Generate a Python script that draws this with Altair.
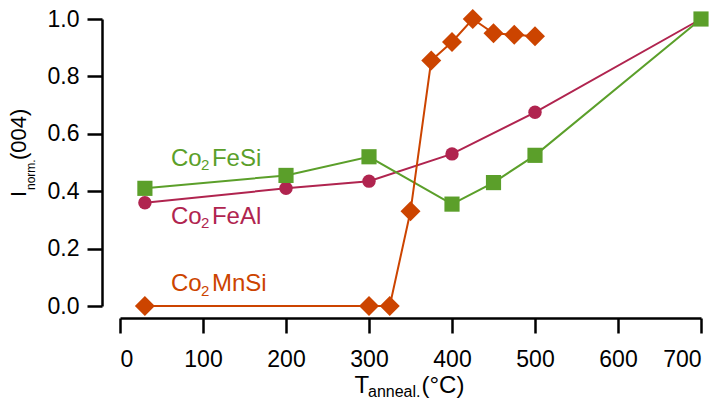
import altair as alt
import pandas as pd

# ---- data ----
fesi_x = [30, 200, 300, 400, 450, 500, 700]
fesi_y = [0.41, 0.455, 0.52, 0.355, 0.43, 0.525, 1.0]

feal_x = [30, 200, 300, 400, 500, 700]
feal_y = [0.36, 0.41, 0.435, 0.53, 0.675, 1.0]

mnsi_x = [30, 300, 325, 350, 375, 400, 425, 450, 475, 500]
mnsi_y = [0.0, 0.0, 0.0, 0.33, 0.855, 0.92, 1.0, 0.95, 0.945, 0.94]

x_ticks = [0, 100, 200, 300, 400, 500, 600, 700]
y_ticks = [0.0, 0.2, 0.4, 0.6, 0.8, 1.0]

FONT = "Liberation Sans"

series = [
    # name, xs, ys, colour, shape, size, label rest, label anchor (x, y)
    ("Co2FeAl", feal_x, feal_y, "#b0244f", "circle", 180, "FeAl", (61.4, 0.286)),
    ("Co2FeSi", fesi_x, fesi_y, "#5b9f2a", "square", 230, "FeSi", (61.4, 0.488)),
    ("Co2MnSi", mnsi_x, mnsi_y, "#cc4400", "diamond", 400, "MnSi", (61.4, 0.052)),
]

xs = alt.Scale(domain=[0, 700], nice=False, zero=False)
ys = alt.Scale(domain=[0, 1], nice=False, zero=False)

x_axis = alt.Axis(values=x_ticks, offset=12, title=None, format="d",
                  labelFontSize=23, labelPadding=15, grid=False)
y_axis = alt.Axis(values=y_ticks, offset=18, title=None, format=".1f",
                  labelFontSize=23, labelPadding=8, grid=False)

X = alt.X("x:Q", scale=xs, axis=x_axis)
Y = alt.Y("y:Q", scale=ys, axis=y_axis)

layers = []
for name, sx, sy, col, shape, size, rest, anchor in series:
    df = pd.DataFrame({"x": sx, "y": sy, "o": list(range(len(sx)))})
    layers.append(
        alt.Chart(df).mark_line(color=col, strokeWidth=2).encode(x=X, y=Y, order="o:Q")
    )
for name, sx, sy, col, shape, size, rest, anchor in series:
    df = pd.DataFrame({"x": sx, "y": sy})
    layers.append(
        alt.Chart(df).mark_point(shape=shape, size=size, filled=True, color=col, opacity=1)
        .encode(x=X, y=Y)
    )

# series labels (Co + subscript 2 + rest)
for name, sx, sy, col, shape, size, rest, anchor in series:
    ldf = pd.DataFrame({"x": [anchor[0]], "y": [anchor[1]]})
    base = alt.Chart(ldf)
    layers.append(base.mark_text(align="left", baseline="alphabetic", font=FONT,
                                 fontSize=24, color=col)
                  .encode(x=X, y=Y, text=alt.value("Co")))
    layers.append(base.mark_text(align="left", baseline="alphabetic", font=FONT,
                                 fontSize=15, color=col, dx=30, dy=4.5)
                  .encode(x=X, y=Y, text=alt.value("2")))
    layers.append(base.mark_text(align="left", baseline="alphabetic", font=FONT,
                                 fontSize=24, color=col, dx=41)
                  .encode(x=X, y=Y, text=alt.value(rest)))

# axis titles built from pieces (pixel positions relative to the plot area)
one = pd.DataFrame({"k": [0]})
def piece(txt, px, py, size, angle=0):
    m = alt.Chart(one).mark_text(align="left", baseline="alphabetic", font=FONT,
                                 fontSize=size, color="black", angle=angle)
    return m.encode(x=alt.value(px), y=alt.value(py), text=alt.value(txt))

# x title: T_anneal.(°C)
layers.append(piece("T", 234.5, 374, 24))
layers.append(piece("anneal.", 248, 378, 16))
layers.append(piece("(°C)", 301.5, 374, 24))
# y title: I_norm.(004), rotated
layers.append(piece("I", -94, 178, 22, 270))
layers.append(piece("norm.", -85, 171, 12, 270))
layers.append(piece("(004)", -94, 141, 22, 270))

chart = alt.layer(*layers).properties(
    width=581, height=287,
    padding={"left": 112, "top": 11, "right": 15, "bottom": 96},
    autosize=alt.AutoSizeParams(type="none"),
).configure_view(stroke=None).configure_axis(
    domainColor="black", domainWidth=2.5, tickColor="black", tickWidth=2.5,
    tickSize=15, labelColor="black", labelFont=FONT,
)

chart.save("out.html", embed_options={"renderer": "svg", "actions": False})
